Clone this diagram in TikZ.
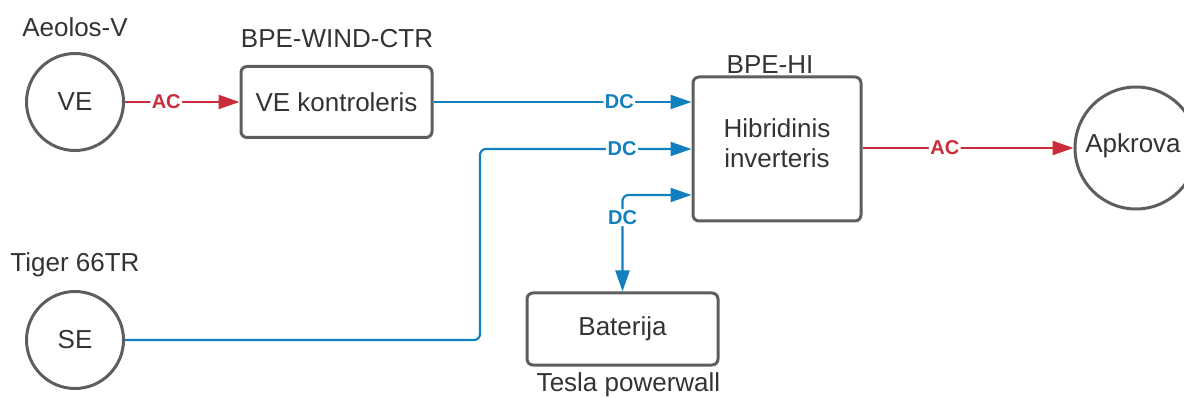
\documentclass[tikz,border=0pt]{standalone}
\usepackage{fontspec}
\setmainfont{Liberation Sans}
\usetikzlibrary{arrows.meta}
\definecolor{edgegray}{HTML}{5E5E5E}
\definecolor{txtgray}{HTML}{333333}
\definecolor{acred}{HTML}{C92D39}
\definecolor{dcblue}{HTML}{127FBF}
\begin{document}
\begin{tikzpicture}[x=1pt,y=-1pt,
  every node/.style={text=txtgray,font=\fontsize{26}{31}\selectfont},
  circ/.style={circle,draw=edgegray,line width=3pt,inner sep=0pt,minimum size=#1},
  boxn/.style={draw=edgegray,line width=3pt,rounded corners=6pt,inner sep=0pt},
  title/.style={inner sep=0pt},
  conn/.style={line width=2.2pt,rounded corners=6pt,-{Triangle[length=21pt,width=14pt]}},
  acline/.style={conn,draw=acred},
  dcline/.style={conn,draw=dcblue},
  lbl/.style={fill=white,inner sep=1.5pt,font=\fontsize{20}{23}\selectfont\bfseries},
  aclbl/.style={lbl,text=acred},
  dclbl/.style={lbl,text=dcblue}]
\useasboundingbox (0,0) rectangle (1184,398);
% nodes
\node[circ=97pt] (ve) at (75,102) {VE};
\node[circ=97pt] (se) at (75,340) {SE};
\node[circ=122pt] (apk) at (1136,148) {};
\node (apktext) at (1133,146) {Apkrova};
\node[boxn,minimum width=191pt,minimum height=71pt] (ctr) at (336.5,102) {VE kontroleris};
\node[boxn,minimum width=168pt,minimum height=144pt] (hyb) at (777,149) {};
\node[align=center,inner sep=0pt] (hybtext) at (777,143.5) {Hibridinis\\[-1pt]inverteris};
\node[boxn,minimum width=191pt,minimum height=72pt] (bat) at (622.5,329) {Baterija};
% titles
\node[title] (t1) at (75,27) {Aeolos-V};
\node[title] (t2) at (337,39) {BPE-WIND-CTR};
\node[title] (t3) at (770,65) {BPE-HI};
\node[title] (t4) at (75,265) {Tiger 66TR};
\node[title] (t5) at (628.5,385) {Tesla powerwall};
% connectors
\draw[acline] (ve.east) -- node[aclbl,pos=0.36] (l1) {AC} (ctr.west);
\draw[dcline] (ctr.east) -- node[dclbl,pos=0.72] (l2) {DC} (ctr.east -| hyb.west);
\coordinate (sebend) at (480,340);
\draw[dcline] (se.east) -- (sebend) |- node[dclbl,pos=0.836] (l3) {DC} (hyb.west);
\draw[dcline,{Triangle[length=21pt,width=14pt]}-{Triangle[length=21pt,width=14pt]}] ([yshift=-46pt]hyb.west) -| node[dclbl,pos=0.617] (l4) {DC} (bat.north);
\draw[acline] (hyb.east |- apk.west) -- node[aclbl,pos=0.39] (l5) {AC} (apk.west);
\end{tikzpicture}
\end{document}
